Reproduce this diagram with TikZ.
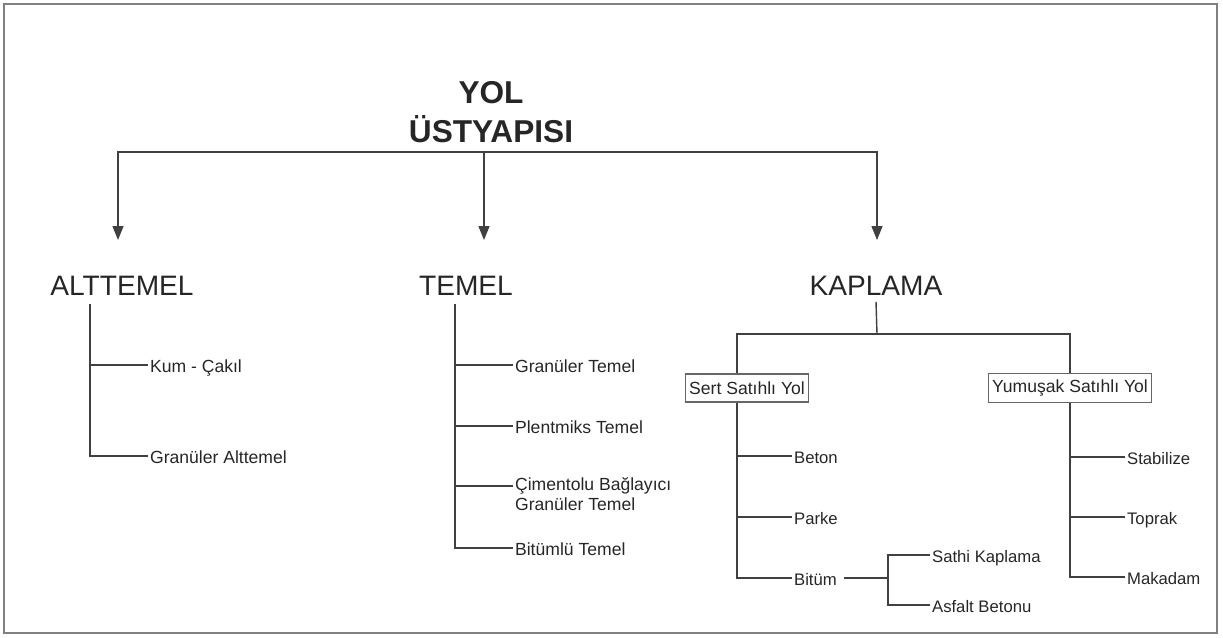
\documentclass[tikz,border=0pt]{standalone}
\usepackage{fontspec}
\setmainfont{Liberation Sans}
\usetikzlibrary{arrows.meta,positioning}

\begin{document}
\begin{tikzpicture}[x=0.02cm, y=-0.02cm,
    ln/.style={draw=black!75, line width=0.8pt},
    arr/.style={ln, -{Triangle[width=0.22cm, length=0.28cm]}},
    title/.style={font=\fontsize{18}{22.5}\selectfont\bfseries, align=center, text=black!85},
    head/.style={font=\fontsize{16}{19}\selectfont, text=black!85},
    leaf/.style={anchor=west, inner sep=1pt, text height=9pt, text depth=0pt, font=\fontsize{10}{12}\selectfont, text=black!85},
    sub/.style={leaf, font=\fontsize{9.5}{11}\selectfont},
    typebox/.style={draw=black!60, line width=0.6pt, inner xsep=2pt, minimum height=0.56cm, font=\fontsize{10}{12}\selectfont, text=black!85}
]
    \useasboundingbox (0,0) rectangle (1223,637);
    \draw[draw=black!50, line width=1pt] (4,4) rectangle (1217,633);

    \node[title] (yol) at (491,112) {YOL\\ÜSTYAPISI};
    \node[head] (alt) at (122,286) {ALTTEMEL};
    \node[head] (tem) at (466,286) {TEMEL};
    \node[head] (kap) at (876,286) {KAPLAMA};

    \coordinate (bar) at (484,152);
    \coordinate (altin) at (118,240);
    \coordinate (temin) at (484,240);
    \coordinate (kapin) at (877,240);
    \draw[arr] (bar) -| (altin);
    \draw[arr] (bar) -- (temin);
    \draw[arr] (bar) -| (kapin);

    % alttemel
    \node[leaf] (kum) at (148,365) {Kum - Çakıl};
    \node[leaf] (galt) at (148,456) {Granüler Alttemel};
    \coordinate (altv) at (90,304);
    \draw[ln] (altv) |- (kum.west);
    \draw[ln] (altv) |- (galt.west);

    % temel
    \node[leaf] (gtem) at (513,365) {Granüler Temel};
    \node[leaf] (plent) at (513,426) {Plentmiks Temel};
    \node[anchor=north west, inner sep=1pt, align=left, font=\fontsize{10}{11.5}\selectfont, text=black!85] (cim) at (513,475) {Çimentolu Bağlayıcı\\Granüler Temel};
    \node[leaf] (btem) at (513,548) {Bitümlü Temel};
    \coordinate (temv) at (455,304);
    \draw[ln] (temv) |- (gtem.west);
    \draw[ln] (temv) |- (plent.west);
    \draw[ln] (temv) |- ([yshift=-0.22cm]cim.north west);
    \draw[ln] (temv) |- (btem.west);

    % kaplama
    \node[typebox] (sert) at (747,388) {Sert Satıhlı Yol};
    \node[typebox] (yum) at (1070,388) {Yumuşak Satıhlı Yol};
    \coordinate (kapbar) at (877,334);
    \draw[ln] (kap.south) -- (kapbar);
    \draw[ln] ([xshift=-0.2cm]sert.north) |- (kapbar) -| (yum.north);

    \node[sub] (beton) at (792,456) {Beton};
    \node[sub] (parke) at (792,517) {Parke};
    \node[sub] (bitum) at (792,578) {Bitüm};
    \draw[ln] ([xshift=-0.2cm]sert.south) |- (beton.west);
    \draw[ln] ([xshift=-0.2cm]sert.south) |- (parke.west);
    \draw[ln] ([xshift=-0.2cm]sert.south) |- (bitum.west);

    \node[sub] (sathi) at (930,555) {Sathi Kaplama};
    \node[sub] (asfalt) at (930,605) {Asfalt Betonu};
    \coordinate (bj) at (888,578);
    \draw[ln, shorten <=3pt] (bitum.east) -- (bj);
    \draw[ln] (bj) |- (sathi.west);
    \draw[ln] (bj) |- (asfalt.west);

    \node[sub] (stab) at (1125,457) {Stabilize};
    \node[sub] (toprak) at (1125,517) {Toprak};
    \node[sub] (makadam) at (1125,577) {Makadam};
    \draw[ln] (yum.south) |- (stab.west);
    \draw[ln] (yum.south) |- (toprak.west);
    \draw[ln] (yum.south) |- (makadam.west);
\end{tikzpicture}
\end{document}
